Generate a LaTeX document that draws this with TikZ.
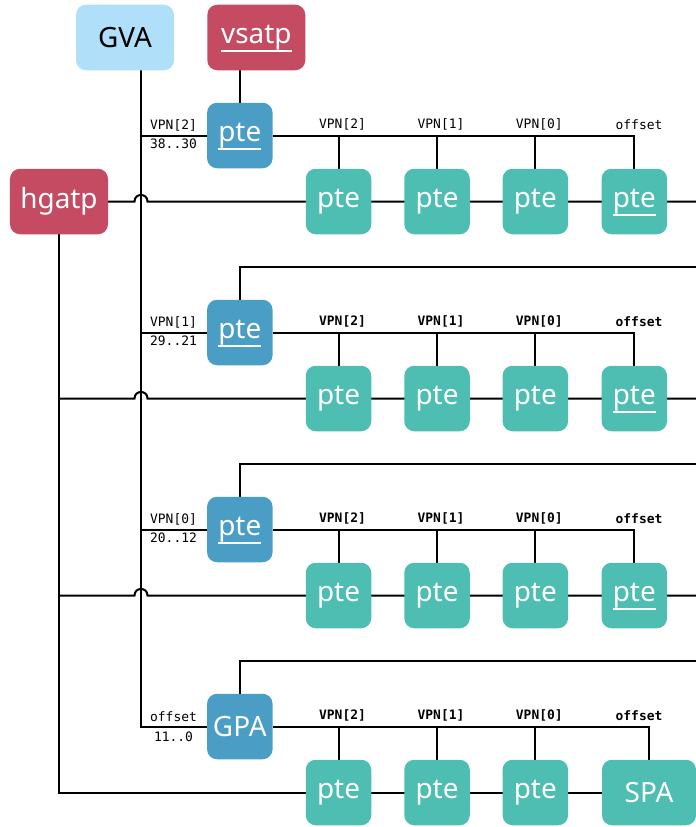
\documentclass[tikz,border=0pt]{standalone}
\usepackage{fontspec}
\setmainfont{Noto Sans}
\newfontfamily\monofont{DejaVu Sans Mono}
\usetikzlibrary{calc,backgrounds}
\definecolor{hostred}{HTML}{C44B62}
\definecolor{gvablue}{HTML}{B0E0F9}
\definecolor{vsblue}{HTML}{4A9DC5}
\definecolor{gteal}{HTML}{4DBEB1}
% white underline drawn beneath a label without changing its size
\newcommand\uline[1]{\setbox0=\hbox{#1}\rlap{\smash{\raisebox{-8.5bp}{\rule{\wd0}{2bp}}}}\box0}
\begin{document}
\begin{tikzpicture}[x=1bp,y=-1bp,
  wire/.style={line width=2bp,black},
  tile/.style={rounded corners=10bp,minimum width=65.5bp,minimum height=65.5bp,
    inner sep=0pt,text=white,font=\fontsize{28}{32}\selectfont},
  widetile/.style={tile,minimum width=98bp},
  vstile/.style={tile,fill=vsblue},
  gtile/.style={tile,fill=gteal},
  lab/.style={inner sep=0pt,font=\monofont\fontsize{13}{15}\selectfont},
  blab/.style={lab,font=\monofont\bfseries\fontsize{13}{15}\selectfont}]
\useasboundingbox (0,0) rectangle (696,827);

% roots
\node[widetile,fill=gvablue,text=black] (GVA) at (125,37.5) {GVA};
\node[widetile,fill=hostred] (vsatp) at (256.3,37.5) {\uline{vsatp}};
\node[widetile,fill=hostred] (hgatp) at (59,201.5) {hgatp};
\coordinate (gvx) at (141,0);

% three full translation levels
\foreach \r/\lvl/\bits in {0/2/38..30,1/1/29..21,2/0/20..12}{
  \pgfmathsetmacro\yb{135.5+197*\r}
  \pgfmathsetmacro\yg{201.5+197*\r}
  \node[vstile] (P\r) at (239.8,\yb) {\uline{pte}};
  \node[gtile] (G\r a) at (338.5,\yg) {pte};
  \node[gtile] (G\r b) at (437,\yg) {pte};
  \node[gtile] (G\r c) at (535.3,\yg) {pte};
  \node[gtile] (G\r d) at (634.3,\yg) {\uline{pte}};
  \coordinate (E\r) at (696,\yg);
  % left field labels
  \node[lab] (L\r) at (173.5,\yb-10) {VPN[\lvl]};
  \node[lab] (B\r) at (173.5,\yb+8.5) {\bits};
}
% top field labels, regular in first level, bold below
\foreach \r in {0,1,2}{
  \pgfmathsetmacro\yt{124.5+197*\r}
  \ifnum\r=0 \def\sty{lab}\else\def\sty{blab}\fi
  \node[\sty] (T\r a) at (342.5,\yt) {VPN[2]};
  \node[\sty] (T\r b) at (441,\yt) {VPN[1]};
  \node[\sty] (T\r c) at (539.3,\yt) {VPN[0]};
  \node[\sty] (T\r d) at (639,\yt) {offset};
}
% final level
\node[vstile] (GPA) at (239.8,726.5) {GPA};
\node[gtile] (G3a) at (338.5,792.5) {pte};
\node[gtile] (G3b) at (437,792.5) {pte};
\node[gtile] (G3c) at (535.3,792.5) {pte};
\node[tile,fill=gteal,minimum width=94bp] (SPA) at (649,792.5) {SPA};
\node[lab] (L3) at (173.5,716.5) {offset};
\node[lab] (B3) at (173.5,736.5) {11..0};
\node[blab] (T3a) at (342.5,715.5) {VPN[2]};
\node[blab] (T3b) at (441,715.5) {VPN[1]};
\node[blab] (T3c) at (539.3,715.5) {VPN[0]};
\node[blab] (T3d) at (639,715.5) {offset};
% right-hand ends of the lines that leave the page
\coordinate (U1) at (696,267);
\coordinate (U2) at (696,464);
\coordinate (U3) at (696,661);

\begin{scope}[on background layer]
\begin{scope}[wire]
  % guest virtual address bus
  \draw (GVA.south -| gvx) -- (gvx |- GPA) -- (GPA.west);
  \foreach \r in {0,1,2}{\draw (gvx |- P\r) -- (P\r.west);}
  % guest page table chain
  \draw (P0.north) -- (P0.north |- vsatp.south);
  \draw (P1.north) |- (U1);
  \draw (P2.north) |- (U2);
  \draw (GPA.north) |- (U3);
  % field ticks into each host walk
  \foreach \r in {0,1,2}{
    \draw (P\r.east) -- (G\r d.north |- P\r) -- (G\r d.north);
    \foreach \c in {a,b,c}{\draw (G\r\c.north |- P\r) -- (G\r\c.north);}
  }
  \draw (GPA.east) -- (SPA.north |- GPA) -- (SPA.north);
  \foreach \c in {a,b,c}{\draw (G3\c.north |- GPA) -- (G3\c.north);}
  % host walks from hgatp, hopping over the address bus
  \draw (hgatp.south) -- (hgatp.south |- SPA) -- (SPA.west);
  \draw (hgatp.east) -- ($(gvx |- G0a)+(-6.5,0)$)
    .. controls ($(gvx |- G0a)+(-6.5,-8.7)$) and ($(gvx |- G0a)+(6.5,-8.7)$) ..
    ($(gvx |- G0a)+(6.5,0)$) -- (E0);
  \foreach \r in {1,2}{
    \draw (hgatp.south |- G\r a) -- ($(gvx |- G\r a)+(-6.5,0)$)
      .. controls ($(gvx |- G\r a)+(-6.5,-8.7)$) and ($(gvx |- G\r a)+(6.5,-8.7)$) ..
      ($(gvx |- G\r a)+(6.5,0)$) -- (E\r);
  }
\end{scope}
\end{scope}
\end{tikzpicture}
\end{document}
